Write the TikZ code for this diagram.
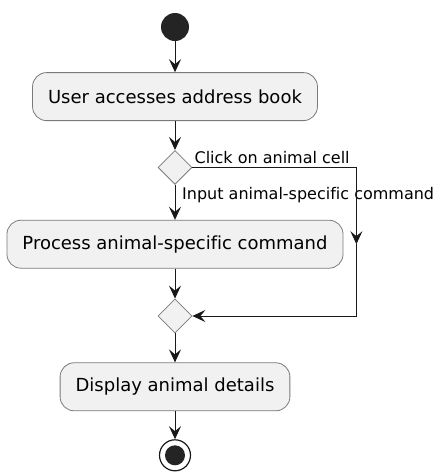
\documentclass[tikz,border=0pt]{standalone}
\usepackage{fontspec}
\setmainfont[Ligatures=NoCommon]{DejaVu Sans}
\usetikzlibrary{positioning}
\usetikzlibrary{shapes.geometric}
\usetikzlibrary{arrows.meta}
\definecolor{actfill}{HTML}{F1F1F1}
\definecolor{actline}{HTML}{181818}
\definecolor{boxline}{HTML}{7A7A7A}
\tikzset{
	flow/.style={draw=actline, line width=1pt, -{Stealth[length=13pt,width=12pt,inset=5pt]}},
	action/.style={rectangle, rounded corners=14pt, draw=boxline, line width=0.8pt, fill=actfill,
		minimum height=48pt, inner xsep=15.5pt, font=\fontsize{18}{22}\selectfont},
	decision/.style={diamond, draw=boxline, line width=0.8pt, fill=actfill, minimum width=34pt,
		minimum height=34pt, inner sep=0pt},
	guard/.style={font=\fontsize{16}{19}\selectfont, inner sep=0pt}
}

\begin{document}
\begin{tikzpicture}[x=1pt,y=1pt]
				\useasboundingbox (0,0) rectangle (444,-472);

				\node [circle, fill=actline!95!white, minimum size=28pt, inner sep=0pt] (start) at (175,-27) {};
				\node [action, below=31pt of start] (access) {User accesses address book};
				\node [decision, below=29pt of access] (choice) {};
				\node [action, below=35pt of choice] (process) {Process animal-specific command};
				\node [decision, below=30pt of process] (merge) {};
				\node [action, below=29pt of merge] (display) {Display animal details};
				\node [circle, draw=actline, line width=1.2pt, fill=white, minimum size=31pt, inner sep=0pt,
					below=28pt of display] (stop) {};
				\node [circle, fill=actline!95!white, minimum size=20pt, inner sep=0pt] at (stop) {};

				% guards on the branch
				\node [guard, anchor=south west] at ([xshift=2pt,yshift=3pt]choice.east) {Click on animal cell};
				\node [guard, anchor=west] at ([xshift=7pt,yshift=-10pt]choice.south) {Input animal-specific command};

				\coordinate [right=164pt of choice.east] (turn);
				\coordinate (half) at (turn |- process);
				\coordinate (back) at (turn |- merge);

				\draw [flow] (start) -- (access);
				\draw [flow] (access) -- (choice);
				\draw [flow] (choice) -- (process);
				\draw [flow] (process) -- (merge);
				\draw [flow] (merge) -- (display);
				\draw [flow] (display) -- (stop);
				\draw [flow] (choice.east) -- (turn) -- (half);
				\draw [flow] (half) -- (back) -- (merge.east);
			\end{tikzpicture}
\end{document}
